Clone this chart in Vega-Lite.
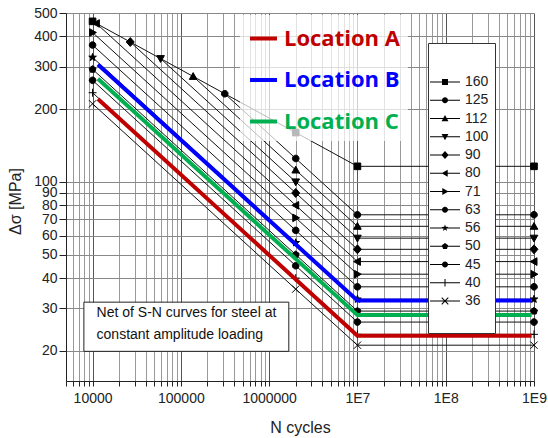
{
  "$schema": "https://vega.github.io/schema/vega-lite/v6.json",
  "width": 468,
  "height": 368,
  "autosize": {"type": "none"},
  "padding": {"left": 66, "top": 13, "right": 14, "bottom": 57},
  "background": "white",
  "config": {"view": {"stroke": null}, "font": "Liberation Sans"},
  "datasets": {
    "curves": [
      {"cat": "160", "N": 10000, "S": 461.7}, {"cat": "160", "N": 2000000, "S": 160}, {"cat": "160", "N": 10000000, "S": 116}, {"cat": "160", "N": 1000000000, "S": 116},
      {"cat": "125", "N": 313972, "S": 231.7}, {"cat": "125", "N": 2000000, "S": 125}, {"cat": "125", "N": 10000000, "S": 73.1}, {"cat": "125", "N": 1000000000, "S": 73.1},
      {"cat": "112", "N": 137800, "S": 273.2}, {"cat": "112", "N": 2000000, "S": 112}, {"cat": "112", "N": 10000000, "S": 65.5}, {"cat": "112", "N": 1000000000, "S": 65.5},
      {"cat": "100", "N": 58900, "S": 323.8}, {"cat": "100", "N": 2000000, "S": 100}, {"cat": "100", "N": 10000000, "S": 58.5}, {"cat": "100", "N": 1000000000, "S": 58.5},
      {"cat": "90", "N": 26720, "S": 379.3}, {"cat": "90", "N": 2000000, "S": 90}, {"cat": "90", "N": 10000000, "S": 52.6}, {"cat": "90", "N": 1000000000, "S": 52.6},
      {"cat": "80", "N": 11050, "S": 452.5}, {"cat": "80", "N": 2000000, "S": 80}, {"cat": "80", "N": 10000000, "S": 46.8}, {"cat": "80", "N": 1000000000, "S": 46.8},
      {"cat": "71", "N": 10000, "S": 415.2}, {"cat": "71", "N": 2000000, "S": 71}, {"cat": "71", "N": 10000000, "S": 41.5}, {"cat": "71", "N": 1000000000, "S": 41.5},
      {"cat": "63", "N": 10000, "S": 368.4}, {"cat": "63", "N": 2000000, "S": 63}, {"cat": "63", "N": 10000000, "S": 36.8}, {"cat": "63", "N": 1000000000, "S": 36.8},
      {"cat": "56", "N": 10000, "S": 327.5}, {"cat": "56", "N": 2000000, "S": 56}, {"cat": "56", "N": 10000000, "S": 32.7}, {"cat": "56", "N": 1000000000, "S": 32.7},
      {"cat": "50", "N": 10000, "S": 292.4}, {"cat": "50", "N": 2000000, "S": 50}, {"cat": "50", "N": 10000000, "S": 29.2}, {"cat": "50", "N": 1000000000, "S": 29.2},
      {"cat": "45", "N": 10000, "S": 263.2}, {"cat": "45", "N": 2000000, "S": 45}, {"cat": "45", "N": 10000000, "S": 26.3}, {"cat": "45", "N": 1000000000, "S": 26.3},
      {"cat": "40", "N": 10000, "S": 233.9}, {"cat": "40", "N": 2000000, "S": 40}, {"cat": "40", "N": 10000000, "S": 23.4}, {"cat": "40", "N": 1000000000, "S": 23.4},
      {"cat": "36", "N": 10000, "S": 210.5}, {"cat": "36", "N": 2000000, "S": 36}, {"cat": "36", "N": 10000000, "S": 21.1}, {"cat": "36", "N": 1000000000, "S": 21.1}
    ],
    "locs": [
      {"loc": "Location A", "N": 11500, "S": 220.5}, {"loc": "Location A", "N": 10000000, "S": 23.1}, {"loc": "Location A", "N": 940000000, "S": 23.1},
      {"loc": "Location B", "N": 11500, "S": 306}, {"loc": "Location B", "N": 10000000, "S": 32.3}, {"loc": "Location B", "N": 940000000, "S": 32.3},
      {"loc": "Location C", "N": 11500, "S": 267}, {"loc": "Location C", "N": 10000000, "S": 28.1}, {"loc": "Location C", "N": 940000000, "S": 28.1}
    ],
    "note": [
      {"line1": "Net of S-N curves for steel at", "line2": "constant amplitude loading"}
    ]
  },
  "layer": [
    {
      "data": {"name": "curves"},
      "mark": {"type": "line", "color": "#111", "strokeWidth": 1},
      "encoding": {
        "x": {
          "field": "N", "type": "quantitative",
          "scale": {"type": "log", "domain": [5000, 1000000000], "nice": false},
          "axis": {
            "values": [5000, 6000, 7000, 8000, 9000, 10000, 20000, 30000, 40000, 50000, 60000, 70000, 80000, 90000, 100000, 200000, 300000, 400000, 500000, 600000, 700000, 800000, 900000, 1000000, 2000000, 3000000, 4000000, 5000000, 6000000, 7000000, 8000000, 9000000, 10000000, 20000000, 30000000, 40000000, 50000000, 60000000, 70000000, 80000000, 90000000, 100000000, 200000000, 300000000, 400000000, 500000000, 600000000, 700000000, 800000000, 900000000, 1000000000],
            "labelExpr": "datum.value == 10000 ? '10000' : datum.value == 100000 ? '100000' : datum.value == 1000000 ? '1000000' : datum.value == 10000000 ? '1E7' : datum.value == 100000000 ? '1E8' : datum.value == 1000000000 ? '1E9' : ''",
            "labelOverlap": false, "labelFlush": false,
            "labelFontSize": 14, "labelColor": "#222", "labelPadding": 5,
            "tickSize": 5, "tickColor": "#222", "domainColor": "#222",
            "grid": true,
            "gridColor": {"condition": {"test": "indexof([10000,100000,1000000,10000000,100000000,1000000000], datum.value) >= 0", "value": "#555"}, "value": "#999"},
            "title": "N cycles", "titleFontSize": 16, "titleFontWeight": "normal", "titleColor": "#222", "titlePadding": 14
          }
        },
        "y": {
          "field": "S", "type": "quantitative",
          "scale": {"type": "log", "domain": [15, 500], "nice": false},
          "axis": {
            "values": [20, 30, 40, 50, 60, 70, 80, 90, 100, 200, 300, 400, 500],
            "labelOverlap": false, "labelFlush": false,
            "labelFontSize": 14, "labelColor": "#222", "labelPadding": 2,
            "tickSize": 7, "tickColor": "#222", "domainColor": "#222",
            "grid": true, "gridColor": "#888",
            "title": "Δσ [MPa]", "titleFontSize": 16, "titleFontWeight": "normal", "titleColor": "#222",
            "titleX": -51, "titleY": 188, "titleAngle": 270, "titleAlign": "center", "titleBaseline": "middle"
          }
        },
        "detail": {"field": "cat", "type": "nominal"}
      }
    },
    {
      "data": {"name": "curves"},
      "mark": {"type": "point", "filled": true, "fill": "black", "stroke": "black", "strokeWidth": 1, "size": 44, "opacity": 1},
      "encoding": {
        "x": {"field": "N", "type": "quantitative", "scale": {"type": "log", "domain": [5000, 1000000000], "nice": false}},
        "y": {"field": "S", "type": "quantitative", "scale": {"type": "log", "domain": [15, 500], "nice": false}},
        "shape": {
          "field": "cat", "type": "nominal",
          "scale": {
            "domain": ["160", "125", "112", "100", "90", "80", "71", "63", "56", "50", "45", "40", "36"],
            "range": [
              "M-1,-1H1V1H-1Z",
              "M-1,0A1,1 0 1,1 1,0A1,1 0 1,1 -1,0Z",
              "M0,-1.15L1.15,0.9H-1.15Z",
              "M0,1.15L-1.15,-0.9H1.15Z",
              "M0,-1.35L1.2,0L0,1.35L-1.2,0Z",
              "M-1.15,0L0.9,-1.15V1.15Z",
              "M1.15,0L-0.9,1.15V-1.15Z",
              "M-1,0A1,1 0 1,1 1,0A1,1 0 1,1 -1,0Z",
              "M0,-1.2L0.282,-0.388L1.141,-0.371L0.457,0.148L0.705,0.971L0,0.48L-0.705,0.971L-0.457,0.148L-1.141,-0.371L-0.282,-0.388Z",
              "M0,-1.1L1.046,-0.34L0.647,0.89L-0.647,0.89L-1.046,-0.34Z",
              "M-1,0A1,1 0 1,1 1,0A1,1 0 1,1 -1,0Z",
              "M-1.2,0H1.2M0,-1.2V1.2",
              "M-1.1,-1.1L1.1,1.1M-1.1,1.1L1.1,-1.1"
            ]
          },
          "legend": null
        }
      }
    },
    {
      "data": {"name": "locs"},
      "mark": {"type": "line", "strokeWidth": 4},
      "encoding": {
        "x": {"field": "N", "type": "quantitative", "scale": {"type": "log", "domain": [5000, 1000000000], "nice": false}},
        "y": {"field": "S", "type": "quantitative", "scale": {"type": "log", "domain": [15, 500], "nice": false}},
        "color": {
          "field": "loc", "type": "nominal",
          "scale": {"domain": ["Location A", "Location B", "Location C"], "range": ["#c00000", "#0000ff", "#00b050"]},
          "legend": {
            "title": null, "orient": "none", "legendX": 174, "legendY": 2, "padding": 8,
            "fillColor": "rgba(255,255,255,0.72)",
            "symbolType": "stroke", "symbolSize": 729, "symbolStrokeWidth": 4,
            "labelFont": "Open Sans", "labelFontSize": 22, "labelFontWeight": "bold", "labelOffset": 5, "labelLimit": 250,
            "rowPadding": 14.5,
            "encode": {"labels": {"update": {"fill": {"signal": "datum.value == 'Location A' ? '#c00000' : datum.value == 'Location B' ? '#0000ff' : '#00b050'"}}}}
          }
        }
      }
    },
    {
      "data": {"name": "curves"},
      "mark": {"type": "point", "filled": true, "fill": "black", "stroke": "black", "strokeWidth": 1, "opacity": 0},
      "encoding": {
        "x": {"field": "N", "type": "quantitative", "scale": {"type": "log", "domain": [5000, 1000000000], "nice": false}},
        "y": {"field": "S", "type": "quantitative", "scale": {"type": "log", "domain": [15, 500], "nice": false}},
        "shape": {
          "field": "cat", "type": "nominal",
          "scale": {
            "domain": ["160", "125", "112", "100", "90", "80", "71", "63", "56", "50", "45", "40", "36", " "],
            "range": [
              "M-5,-0.17H5V0.17H-5Z M-1,-1H1V1H-1Z",
              "M-5,-0.17H5V0.17H-5Z M-1,0A1,1 0 1,1 1,0A1,1 0 1,1 -1,0Z",
              "M-5,-0.17H5V0.17H-5Z M0,-1.15L1.15,0.9H-1.15Z",
              "M-5,-0.17H5V0.17H-5Z M0,1.15L-1.15,-0.9H1.15Z",
              "M-5,-0.17H5V0.17H-5Z M0,-1.35L1.2,0L0,1.35L-1.2,0Z",
              "M-5,-0.17H5V0.17H-5Z M-1.15,0L0.9,-1.15V1.15Z",
              "M-5,-0.17H5V0.17H-5Z M1.15,0L-0.9,1.15V-1.15Z",
              "M-5,-0.17H5V0.17H-5Z M-1,0A1,1 0 1,1 1,0A1,1 0 1,1 -1,0Z",
              "M-5,-0.17H5V0.17H-5Z M0,-1.2L0.282,-0.388L1.141,-0.371L0.457,0.148L0.705,0.971L0,0.48L-0.705,0.971L-0.457,0.148L-1.141,-0.371L-0.282,-0.388Z",
              "M-5,-0.17H5V0.17H-5Z M0,-1.1L1.046,-0.34L0.647,0.89L-0.647,0.89L-1.046,-0.34Z",
              "M-5,-0.17H5V0.17H-5Z M-1,0A1,1 0 1,1 1,0A1,1 0 1,1 -1,0Z",
              "M-5,-0.17H5V0.17H-5Z M-0.17,-1.25H0.17V1.25H-0.17Z",
              "M-5,-0.17H5V0.17H-5Z M-0.98,-1.22L1.22,0.98L0.98,1.22L-1.22,-0.98Z M-0.98,1.22L-1.22,0.98L0.98,-1.22L1.22,-0.98Z",
              "M0,0"
            ]
          },
          "legend": {
            "title": " ", "titleFontSize": 14, "titlePadding": 12,
            "orient": "none", "legendX": 362, "legendY": 30, "padding": 6,
            "fillColor": "white", "strokeColor": "#333",
            "symbolSize": 36, "symbolOffset": 4, "symbolStrokeWidth": 0,
            "symbolFillColor": "black", "symbolStrokeColor": "black", "symbolOpacity": 1,
            "labelFontSize": 14, "labelColor": "#222", "labelAlign": "left", "labelOffset": 13, "labelLimit": 100,
            "labelExpr": "length(datum.label) == 2 ? '\u2007' + datum.label : datum.label",
            "rowPadding": 4.25
          }
        }
      }
    },
    {
      "data": {"name": "note"},
      "mark": {"type": "rect", "fill": "white", "stroke": "#222", "strokeWidth": 1},
      "encoding": {
        "x": {"datum": 7970, "type": "quantitative", "scale": {"type": "log", "domain": [5000, 1000000000], "nice": false}},
        "x2": {"datum": 1670000},
        "y": {"datum": 31.8, "type": "quantitative", "scale": {"type": "log", "domain": [15, 500], "nice": false}},
        "y2": {"datum": 19.9}
      }
    },
    {
      "data": {"name": "note"},
      "mark": {"type": "text", "align": "left", "baseline": "middle", "fontSize": 14, "color": "#111"},
      "encoding": {
        "x": {"datum": 11100, "type": "quantitative", "scale": {"type": "log", "domain": [5000, 1000000000], "nice": false}},
        "y": {"datum": 28.6, "type": "quantitative", "scale": {"type": "log", "domain": [15, 500], "nice": false}},
        "text": {"field": "line1"}
      }
    },
    {
      "data": {"name": "note"},
      "mark": {"type": "text", "align": "left", "baseline": "middle", "fontSize": 14, "color": "#111"},
      "encoding": {
        "x": {"datum": 11100, "type": "quantitative", "scale": {"type": "log", "domain": [5000, 1000000000], "nice": false}},
        "y": {"datum": 23.3, "type": "quantitative", "scale": {"type": "log", "domain": [15, 500], "nice": false}},
        "text": {"field": "line2"}
      }
    }
  ],
  "resolve": {"scale": {"shape": "independent"}}
}
